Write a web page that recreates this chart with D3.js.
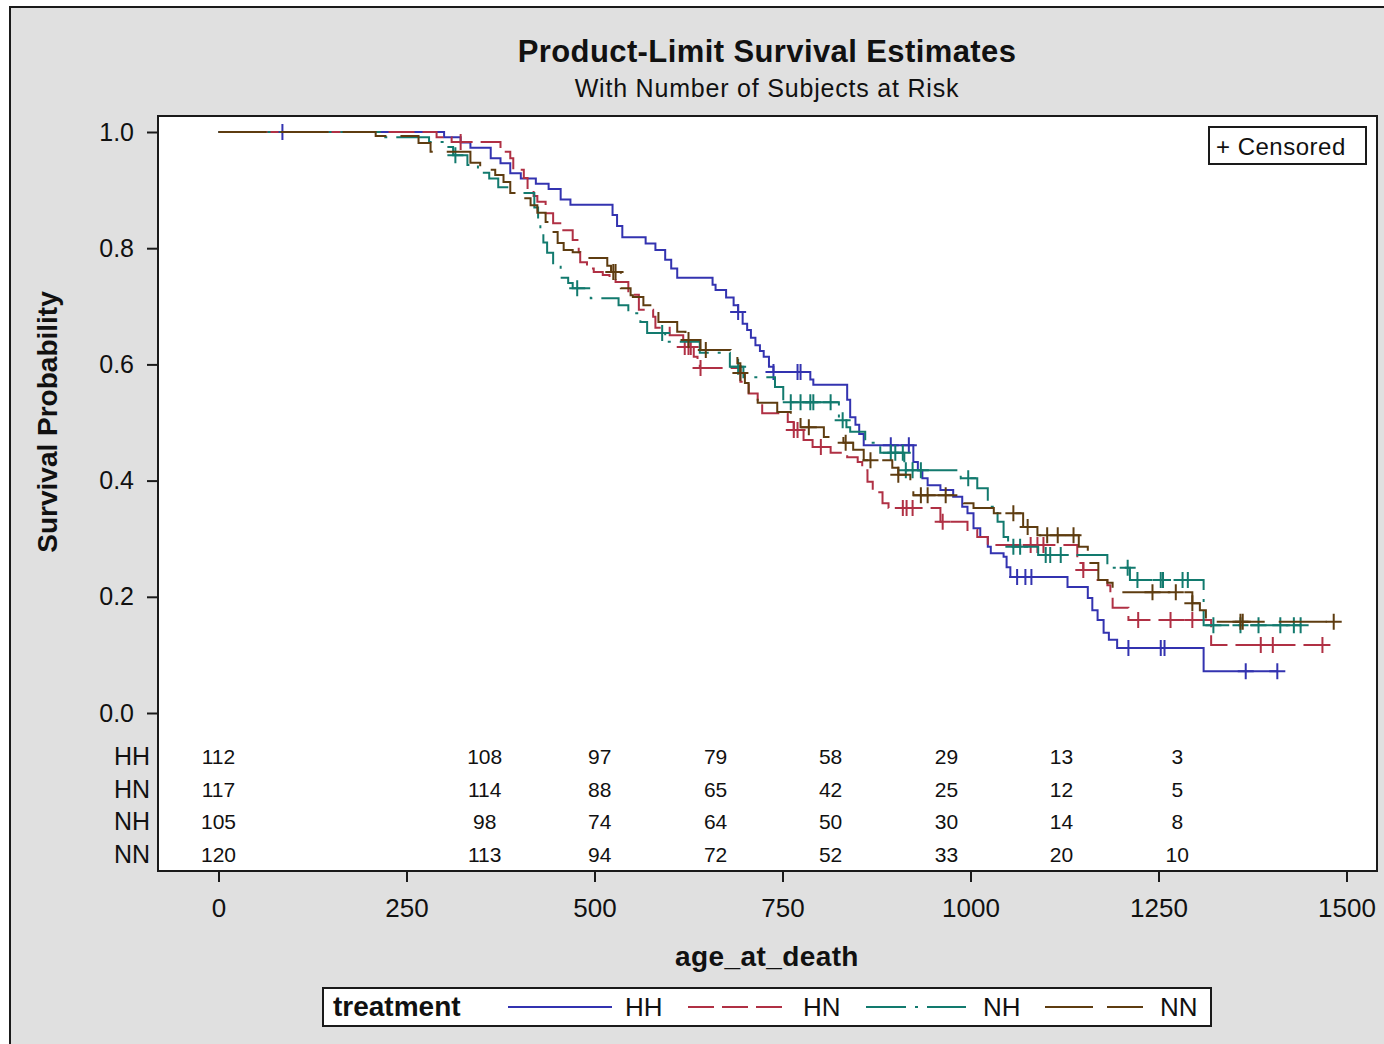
<!DOCTYPE html>
<html><head>
<meta charset="UTF-8">
<script src="https://cdn.jsdelivr.net/npm/d3@7/dist/d3.min.js"></script>
<style>
  body { margin:0; background:#fff; }
  svg text { font-family: "Liberation Sans", Arial, sans-serif; fill:#111; }
</style>
</head><body>
<svg id="chart" width="1384" height="1044"></svg>
<script>
// ---- data ----
const treatments = ['HH', 'HN', 'NH', 'NN'];
const colors = ['#3333b0', '#b03044', '#127a6e', '#5e3c10'];
const dashes = [null, '26,8', '40,9,3,9', '48,14'];

// [time, survival after the drop]
const hhSteps = [[300,0.991],[322,0.982],[335,0.973],[362,0.955],[375,0.946],[388,0.929],[402,0.92],[422,0.911],[439,0.902],[455,0.884],[468,0.875],[524,0.857],[530,0.838],[537,0.819],[568,0.808],[581,0.797],[594,0.78],[602,0.765],[610,0.749],[657,0.737],[661,0.728],[675,0.715],[685,0.702],[691,0.69],[697,0.67],[703,0.659],[708,0.646],[714,0.633],[720,0.623],[725,0.613],[732,0.596],[738,0.587],[787,0.574],[791,0.565],[836,0.539],[840,0.509],[847,0.496],[852,0.48],[858,0.461],[924,0.432],[930,0.418],[936,0.404],[943,0.392],[960,0.384],[977,0.372],[989,0.355],[996,0.344],[1004,0.318],[1013,0.303],[1023,0.286],[1027,0.275],[1044,0.269],[1048,0.251],[1053,0.234],[1129,0.217],[1156,0.198],[1162,0.177],[1169,0.16],[1177,0.138],[1184,0.126],[1195,0.112],[1310,0.072]];
const hhCensor = [85,691,738,770,774,894,918,1062,1073,1081,1210,1253,1258,1366,1408];

const hnSteps = [[290,0.991],[310,0.983],[375,0.966],[388,0.955],[392,0.935],[406,0.921],[411,0.9],[419,0.89],[424,0.88],[435,0.86],[445,0.843],[457,0.831],[471,0.814],[479,0.793],[481,0.776],[490,0.765],[499,0.759],[511,0.754],[520,0.748],[528,0.742],[545,0.72],[559,0.694],[578,0.682],[581,0.663],[600,0.65],[618,0.63],[632,0.613],[637,0.602],[640,0.594],[694,0.57],[705,0.55],[717,0.534],[723,0.516],[757,0.501],[765,0.487],[778,0.47],[790,0.458],[814,0.448],[836,0.44],[850,0.432],[856,0.418],[863,0.398],[870,0.38],[883,0.361],[891,0.353],[960,0.329],[996,0.315],[1009,0.303],[1023,0.289],[1142,0.258],[1150,0.246],[1169,0.229],[1182,0.22],[1186,0.2],[1189,0.181],[1210,0.16],[1320,0.117]];
const hnCensor = [322,620,625,628,641,765,770,801,910,915,923,963,1080,1089,1097,1150,1223,1266,1295,1386,1402,1468];

const nhSteps = [[215,0.991],[280,0.983],[300,0.974],[312,0.96],[331,0.943],[345,0.93],[360,0.92],[372,0.905],[386,0.895],[420,0.87],[425,0.85],[428,0.831],[432,0.81],[437,0.792],[445,0.768],[455,0.749],[465,0.74],[471,0.731],[495,0.714],[532,0.702],[545,0.688],[561,0.673],[570,0.654],[594,0.639],[640,0.62],[680,0.596],[698,0.578],[740,0.561],[751,0.535],[825,0.504],[835,0.492],[840,0.484],[860,0.465],[880,0.448],[912,0.418],[987,0.404],[1009,0.387],[1023,0.355],[1031,0.349],[1036,0.329],[1044,0.303],[1050,0.286],[1090,0.272],[1182,0.25],[1212,0.229],[1310,0.151]];
const nhCensor = [315,477,590,691,761,774,787,791,814,830,894,900,910,914,923,934,997,1057,1066,1100,1106,1120,1209,1222,1253,1256,1282,1289,1323,1359,1383,1412,1430,1439];

const nnSteps = [[209,0.993],[266,0.981],[282,0.966],[335,0.947],[348,0.94],[362,0.935],[368,0.926],[379,0.914],[388,0.895],[406,0.886],[415,0.874],[424,0.861],[435,0.845],[441,0.828],[451,0.809],[459,0.797],[471,0.793],[481,0.783],[517,0.77],[522,0.759],[535,0.731],[548,0.719],[551,0.716],[565,0.702],[578,0.697],[585,0.673],[610,0.656],[621,0.642],[641,0.625],[681,0.616],[690,0.602],[694,0.585],[700,0.568],[705,0.551],[717,0.534],[743,0.518],[761,0.509],[774,0.492],[805,0.475],[831,0.465],[844,0.453],[858,0.435],[896,0.422],[904,0.41],[920,0.396],[924,0.375],[991,0.361],[1004,0.353],[1031,0.344],[1070,0.32],[1089,0.306],[1144,0.286],[1156,0.258],[1170,0.229],[1182,0.224],[1189,0.208],[1295,0.189],[1305,0.177],[1313,0.157]];
const nnCensor = [525,528,625,648,694,785,834,867,904,934,943,967,1057,1076,1102,1116,1137,1242,1273,1295,1359,1362,1483];

const riskTimes = [0, 354, 507, 661, 814, 968, 1121, 1275];
const riskHH = [112, 108, 97, 79, 58, 29, 13, 3];
const riskHN = [117, 114, 88, 65, 42, 25, 12, 5];
const riskNH = [105, 98, 74, 64, 50, 30, 14, 8];
const riskNN = [120, 113, 94, 72, 52, 33, 20, 10];

const xTicks = [0, 250, 500, 750, 1000, 1250, 1500];
const yTicks = [0, 0.2, 0.4, 0.6, 0.8, 1.0];

const curves = [
  { name: 'HH', steps: hhSteps, censor: hhCensor, risk: riskHH },
  { name: 'HN', steps: hnSteps, censor: hnCensor, risk: riskHN },
  { name: 'NH', steps: nhSteps, censor: nhCensor, risk: riskNH },
  { name: 'NN', steps: nnSteps, censor: nnCensor, risk: riskNN },
];

// ---- layout ----
const svg = d3.select('#chart');
const box = { left: 158, top: 116, right: 1377, bottom: 871 };
const x = d3.scaleLinear().domain([0, 1500]).range([218.5, 1346.5]);
const y = d3.scaleLinear().domain([0, 1]).range([713, 132]);
const dark = '#1a1a1a';

// outer panel
svg.append('rect').attr('x', 10).attr('y', 7).attr('width', 1390).attr('height', 1050)
  .attr('fill', '#e0e0e0').attr('stroke', dark).attr('stroke-width', 2);

// titles
svg.append('text').attr('x', 767).attr('y', 62).attr('text-anchor', 'middle')
  .attr('font-size', 31).attr('font-weight', 'bold').attr('letter-spacing', 0.4)
  .text('Product-Limit Survival Estimates');
svg.append('text').attr('x', 767).attr('y', 97).attr('text-anchor', 'middle')
  .attr('font-size', 25).attr('letter-spacing', 0.8).text('With Number of Subjects at Risk');

// plot box
svg.append('rect').attr('x', box.left).attr('y', box.top)
  .attr('width', box.right - box.left).attr('height', box.bottom - box.top)
  .attr('fill', '#fff').attr('stroke', dark).attr('stroke-width', 2);

// y axis
const yAxis = svg.append('g').attr('transform', `translate(${box.left},0)`)
  .call(d3.axisLeft(y).tickValues(yTicks).tickFormat(d3.format('.1f')).tickSize(11).tickPadding(13));
yAxis.select('.domain').remove();
yAxis.selectAll('line').attr('stroke', dark).attr('stroke-width', 2);
yAxis.selectAll('text').attr('font-size', 25).attr('fill', '#222').attr('font-family', '"Liberation Sans", Arial, sans-serif');

svg.append('text').attr('transform', 'translate(57,422) rotate(-90)').attr('text-anchor', 'middle')
  .attr('font-size', 28).attr('font-weight', 'bold').text('Survival Probability');

// x axis
const xAxis = svg.append('g').attr('transform', `translate(0,${box.bottom})`)
  .call(d3.axisBottom(x).tickValues(xTicks).tickFormat(d3.format('d')).tickSize(11).tickPadding(17));
xAxis.select('.domain').remove();
xAxis.selectAll('line').attr('stroke', dark).attr('stroke-width', 2);
xAxis.selectAll('text').attr('font-size', 26).attr('fill', '#222').attr('font-family', '"Liberation Sans", Arial, sans-serif');

svg.append('text').attr('x', 767).attr('y', 966).attr('text-anchor', 'middle')
  .attr('font-size', 28).attr('font-weight', 'bold').attr('letter-spacing', 0.4).text('age_at_death');

// curves
const line = d3.line().x(d => x(d[0])).y(d => y(d[1])).curve(d3.curveStepAfter);
const survAt = (steps, t) => {
  let s = 1;
  for (const [tt, ss] of steps) { if (tt <= t) s = ss; else break; }
  return s;
};

const plot = svg.append('g');
curves.forEach((c, i) => {
  const end = d3.max(c.censor);
  const pts = [[0, 1], ...c.steps, [end, c.steps[c.steps.length - 1][1]]];
  plot.append('path').attr('d', line(pts)).attr('fill', 'none')
    .attr('stroke', colors[i]).attr('stroke-width', 2)
    .attr('stroke-dasharray', dashes[i]);
  plot.append('g').selectAll('path').data(c.censor).join('path')
    .attr('d', t => {
      const cx = x(t), cy = y(survAt(c.steps, t));
      return `M${cx - 8},${cy}H${cx + 8}M${cx},${cy - 8}V${cy + 8}`;
    })
    .attr('stroke', colors[i]).attr('stroke-width', 2).attr('fill', 'none');
});

// censored legend
svg.append('rect').attr('x', 1209).attr('y', 127).attr('width', 157).attr('height', 37)
  .attr('fill', '#fff').attr('stroke', dark).attr('stroke-width', 2);
svg.append('text').attr('x', 1216).attr('y', 155).attr('font-size', 24).attr('letter-spacing', 0.5).text('+ Censored');

// at-risk table
const rowY = [756, 789, 821, 854];
curves.forEach((c, i) => {
  svg.append('text').attr('x', 150).attr('y', rowY[i] + 9).attr('text-anchor', 'end')
    .attr('font-size', 25).attr('fill', '#222').text(c.name);
  svg.append('g').selectAll('text').data(c.risk).join('text')
    .attr('x', (d, j) => x(riskTimes[j])).attr('y', rowY[i] + 8)
    .attr('text-anchor', 'middle').attr('font-size', 21).attr('fill', '#222')
    .text(d => d);
});

// bottom legend
const lg = svg.append('g');
lg.append('rect').attr('x', 323).attr('y', 988).attr('width', 888).attr('height', 38)
  .attr('fill', '#fff').attr('stroke', dark).attr('stroke-width', 2);
lg.append('text').attr('x', 333).attr('y', 1016).attr('font-size', 28).attr('font-weight', 'bold').text('treatment');
const legX = [[508, 612, 625], [688, 782, 803], [866, 966, 983], [1045, 1143, 1160]];
treatments.forEach((t, i) => {
  lg.append('line').attr('x1', legX[i][0]).attr('x2', legX[i][1]).attr('y1', 1007).attr('y2', 1007)
    .attr('stroke', colors[i]).attr('stroke-width', 2).attr('stroke-dasharray', dashes[i]);
  lg.append('text').attr('x', legX[i][2]).attr('y', 1016).attr('font-size', 26).text(t);
});
</script>
</body></html>
